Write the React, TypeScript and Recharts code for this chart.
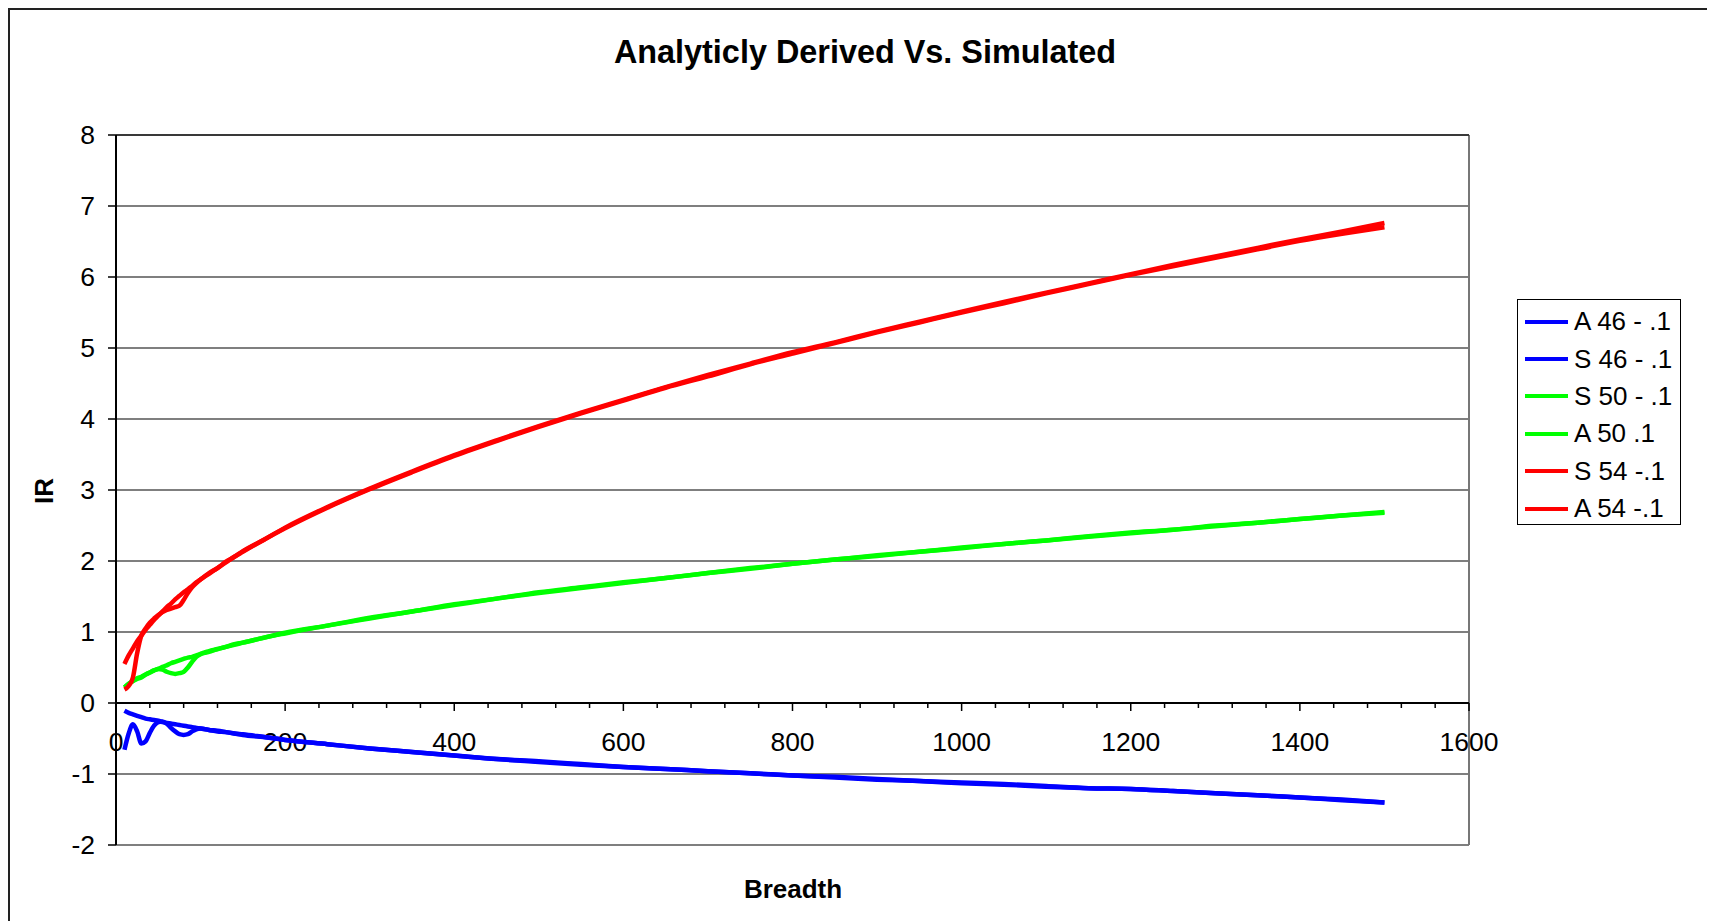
import React from "react";
import {
  LineChart,
  Line,
  XAxis,
  YAxis,
  CartesianGrid,
  ReferenceLine,
  Legend,
} from "recharts";

const FONT = '"Liberation Sans", Arial, sans-serif';

const BREADTH = [
  10, 15, 20, 25, 30, 35, 40, 45, 50, 55, 60, 65, 70, 75, 80, 85, 90, 95,
  100, 110, 120, 130, 140, 150, 175, 200,
  250, 300, 350, 400, 450, 500, 550, 600, 650, 700, 750, 800, 850, 900, 950,
  1000, 1050, 1100, 1150, 1200, 1250, 1300, 1350, 1400, 1450, 1500,
];

const A46 = [
  -0.11, -0.14, -0.16, -0.18, -0.2, -0.22, -0.23, -0.24, -0.25, -0.27, -0.28, -0.29, -0.3, -0.31, -0.32, -0.33, -0.34, -0.35,
  -0.36, -0.38, -0.39, -0.41, -0.43, -0.44, -0.48, -0.52,
  -0.58, -0.64, -0.69, -0.74, -0.79, -0.83, -0.87, -0.9, -0.93, -0.96, -0.99, -1.02, -1.05, -1.08, -1.1,
  -1.13, -1.15, -1.18, -1.2, -1.21, -1.24, -1.27, -1.3, -1.33, -1.37, -1.4,
];
const S46 = [
  -0.66, -0.43, -0.3, -0.4, -0.57, -0.54, -0.42, -0.32, -0.27, -0.26, -0.29, -0.35, -0.4, -0.44, -0.45, -0.44, -0.4, -0.37,
  -0.36, -0.38, -0.4, -0.41, -0.43, -0.45, -0.48, -0.52,
  -0.58, -0.64, -0.69, -0.74, -0.79, -0.82, -0.86, -0.9, -0.93, -0.96, -0.99, -1.02, -1.04, -1.07, -1.1,
  -1.12, -1.14, -1.17, -1.2, -1.21, -1.24, -1.27, -1.3, -1.33, -1.36, -1.4,
];
const S50 = [
  0.22, 0.27, 0.31, 0.35, 0.37, 0.4, 0.43, 0.46, 0.48, 0.47, 0.44, 0.42, 0.41, 0.42, 0.44, 0.5, 0.58, 0.65,
  0.69, 0.73, 0.76, 0.79, 0.83, 0.85, 0.92, 0.99,
  1.09, 1.2, 1.29, 1.39, 1.47, 1.56, 1.63, 1.7, 1.76, 1.83, 1.9, 1.96, 2.02, 2.08, 2.13,
  2.19, 2.24, 2.29, 2.35, 2.4, 2.44, 2.5, 2.54, 2.59, 2.64, 2.69,
];
const A50 = [
  0.22, 0.27, 0.31, 0.34, 0.36, 0.4, 0.43, 0.46, 0.48, 0.51, 0.53, 0.56, 0.58, 0.6, 0.62, 0.64, 0.65, 0.67,
  0.69, 0.72, 0.76, 0.79, 0.82, 0.85, 0.92, 0.98,
  1.09, 1.19, 1.29, 1.38, 1.47, 1.55, 1.62, 1.69, 1.76, 1.83, 1.89, 1.96, 2.02, 2.07, 2.13,
  2.18, 2.24, 2.29, 2.34, 2.39, 2.44, 2.49, 2.54, 2.59, 2.64, 2.68,
];
const S54 = [
  0.19, 0.24, 0.36, 0.7, 0.95, 1.05, 1.13, 1.19, 1.24, 1.28, 1.31, 1.33, 1.35, 1.37, 1.45, 1.55, 1.63, 1.69,
  1.74, 1.83, 1.9, 1.99, 2.06, 2.14, 2.3, 2.47,
  2.76, 3.02, 3.26, 3.49, 3.7, 3.9, 4.09, 4.27, 4.45, 4.62, 4.78, 4.94, 5.08, 5.23, 5.37,
  5.51, 5.65, 5.78, 5.91, 6.04, 6.17, 6.29, 6.41, 6.53, 6.64, 6.76,
];
const A54 = [
  0.55, 0.67, 0.77, 0.87, 0.95, 1.03, 1.1, 1.17, 1.23, 1.29, 1.35, 1.4, 1.46, 1.51, 1.56, 1.6, 1.65, 1.7,
  1.74, 1.82, 1.9, 1.98, 2.06, 2.13, 2.3, 2.46,
  2.75, 3.01, 3.25, 3.48, 3.69, 3.89, 4.08, 4.26, 4.44, 4.6, 4.77, 4.92, 5.07, 5.22, 5.36,
  5.5, 5.63, 5.77, 5.9, 6.03, 6.15, 6.27, 6.39, 6.51, 6.61, 6.7,
];

const SERIES = [
  { key: "a46", name: "A 46 - .1", color: "#0000ff", values: A46 },
  { key: "s46", name: "S 46 - .1", color: "#0000ff", values: S46 },
  { key: "s50", name: "S 50 - .1", color: "#00ff00", values: S50 },
  { key: "a50", name: "A 50 .1", color: "#00ff00", values: A50 },
  { key: "s54", name: "S 54 -.1", color: "#ff0000", values: S54 },
  { key: "a54", name: "A 54 -.1", color: "#ff0000", values: A54 },
];

const Y_TICKS = [-2, -1, 0, 1, 2, 3, 4, 5, 6, 7, 8];
const X_LABELS = [0, 200, 400, 600, 800, 1000, 1200, 1400, 1600];
const X_MINOR = Array.from({ length: 41 }, (_, i) => i * 40);
const X_MIN = 0;
const X_MAX = 1600;

const data = BREADTH.map((x, i) => {
  const row: Record<string, number> = { x };
  SERIES.forEach((s) => {
    row[s.key] = s.values[i];
  });
  return row;
});

// x axis crosses at IR = 0, so it is drawn on the zero reference line
const ZeroAxis = (props: any) => {
  const { x1, x2, y1 } = props;
  const px = (v: number) => x1 + ((v - X_MIN) / (X_MAX - X_MIN)) * (x2 - x1);
  return (
    <g>
      <line x1={x1} x2={x2} y1={y1} y2={y1} stroke="#000" strokeWidth={2} />
      {X_MINOR.map((v) => (
        <line
          key={v}
          x1={px(v)}
          x2={px(v)}
          y1={y1}
          y2={y1 + (v % 200 === 0 ? 8 : 5)}
          stroke="#000"
          strokeWidth={1.5}
        />
      ))}
      {X_LABELS.map((v) => (
        <text
          key={v}
          x={px(v)}
          y={y1 + 39}
          textAnchor="middle"
          dominantBaseline="central"
          fontSize={26.5}
          fontFamily={FONT}
          fill="#000"
        >
          {v}
        </text>
      ))}
    </g>
  );
};

const LegendBox = () => (
  <div
    style={{
      width: 164,
      height: 226,
      boxSizing: "border-box",
      border: "1.5px solid #000",
      background: "#fff",
      paddingTop: 3,
      fontFamily: FONT,
      fontSize: 26,
      color: "#000",
    }}
  >
    {SERIES.map((s) => (
      <div
        key={s.key}
        style={{ height: 37.4, display: "flex", alignItems: "center" }}
      >
        <span
          style={{
            display: "inline-block",
            width: 43,
            height: 4,
            marginLeft: 7,
            background: s.color,
          }}
        />
        <span style={{ marginLeft: 6, whiteSpace: "nowrap" }}>{s.name}</span>
      </div>
    ))}
  </div>
);

export default function App() {
  return (
    <div
      style={{
        position: "relative",
        width: 1705,
        height: 930,
        boxSizing: "border-box",
        border: "2px solid #222",
        background: "#fff",
        fontFamily: FONT,
      }}
    >
      <div
        style={{
          position: "absolute",
          left: 855,
          top: 26,
          transform: "translateX(-50%)",
          fontSize: 32.4,
          fontWeight: "bold",
          lineHeight: "32px",
          whiteSpace: "nowrap",
          zIndex: 2,
        }}
      >
        Analyticly Derived Vs. Simulated
      </div>
      <div
        style={{
          position: "absolute",
          left: 34,
          top: 481,
          transform: "translate(-50%, -50%) rotate(-90deg)",
          fontSize: 26,
          fontWeight: "bold",
          lineHeight: "26px",
          zIndex: 2,
        }}
      >
        IR
      </div>
      <div
        style={{
          position: "absolute",
          left: 783,
          top: 879,
          transform: "translate(-50%, -50%)",
          fontSize: 26,
          fontWeight: "bold",
          lineHeight: "26px",
          zIndex: 2,
        }}
      >
        Breadth
      </div>
      <LineChart
        width={1701}
        height={900}
        data={data}
        margin={{ top: 125, right: 242, bottom: 65, left: 36 }}
      >
        <CartesianGrid
          vertical={false}
          stroke="#555"
          strokeWidth={1.6}
        />
        <XAxis
          type="number"
          dataKey="x"
          domain={[X_MIN, X_MAX]}
          hide
        />
        <YAxis
          type="number"
          domain={[-2, 8]}
          ticks={Y_TICKS}
          interval={0}
          width={70}
          axisLine={{ stroke: "#000", strokeWidth: 2 }}
          tickLine={{ stroke: "#000", strokeWidth: 1.5 }}
          tickSize={8}
          tickMargin={13}
          tick={{ fontSize: 26.5, fill: "#000", fontFamily: FONT }}
        />
        <ReferenceLine x={X_MAX} stroke="#777" strokeWidth={2} />
        <ReferenceLine y={8} stroke="#222" strokeWidth={1.5} />
        <ReferenceLine y={0} shape={ZeroAxis} />
        {SERIES.map((s) => (
          <Line
            key={s.key}
            type="monotone"
            dataKey={s.key}
            name={s.name}
            stroke={s.color}
            strokeWidth={4.5}
            dot={false}
            activeDot={false}
            isAnimationActive={false}
          />
        ))}
        <Legend
          layout="vertical"
          align="center"
          verticalAlign="middle"
          wrapperStyle={{ left: 1507, top: 289, width: 164, height: 226 }}
          content={() => <LegendBox />}
        />
      </LineChart>
    </div>
  );
}
